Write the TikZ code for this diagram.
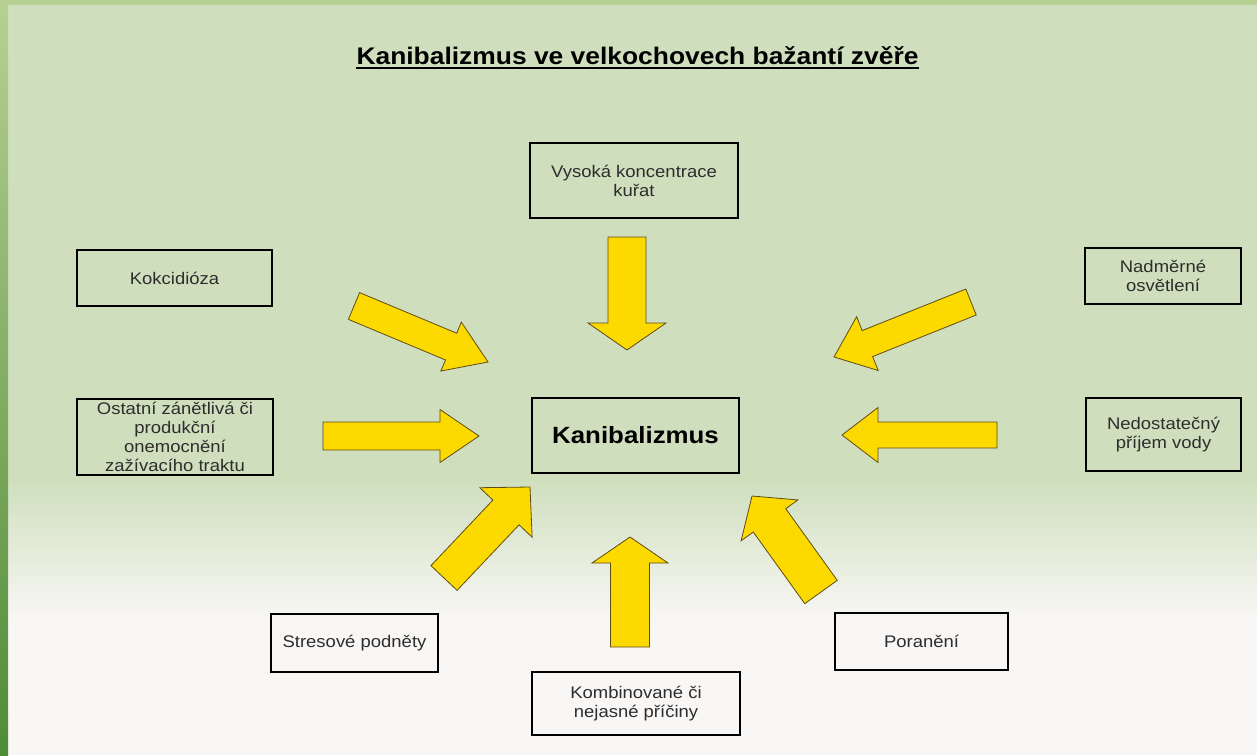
\documentclass[tikz,border=0pt]{standalone}
\usepackage{fontspec}
\setmainfont{Liberation Sans}[FakeStretch=1.1]
\usetikzlibrary{calc}

\definecolor{paper}{RGB}{249,247,245}
\definecolor{speckle}{RGB}{207,223,190}
\definecolor{bandgreen}{RGB}{183,208,148}
\definecolor{bardark}{RGB}{80,140,55}
\definecolor{arrowyellow}{RGB}{252,218,0}
\definecolor{arrowedge}{RGB}{95,75,20}
\definecolor{labelgray}{RGB}{45,45,45}

\tikzset{
  causebox/.style={draw=black,line width=2pt,align=center,inner sep=0pt,
    text=labelgray,font=\fontsize{16.8}{19}\selectfont},
  fatarrow/.style n args={3}{fill=arrowyellow,draw=arrowedge,line width=0.8pt,line join=miter,
    to path={($(\tikztostart)!#1!90:(\tikztotarget)$)
      -- ($(\tikztotarget)!#3!(\tikztostart)!#1!-90:(\tikztostart)$)
      -- ($(\tikztotarget)!#3!(\tikztostart)!#2!-90:(\tikztostart)$)
      -- (\tikztotarget)
      -- ($(\tikztotarget)!#3!(\tikztostart)!#2!90:(\tikztostart)$)
      -- ($(\tikztotarget)!#3!(\tikztostart)!#1!90:(\tikztostart)$)
      -- ($(\tikztostart)!#1!-90:(\tikztotarget)$) -- cycle}}
}

\begin{document}
\begin{tikzpicture}[x=1pt,y=-1pt]
\useasboundingbox (0,0) rectangle (1257,755);

% scanned page
\fill[paper] (0,0) rectangle (1257,755);
\fill[speckle] (8,5) rectangle (1257,480);
\shade[top color=speckle,bottom color=paper] (8,480) rectangle (1257,620);
\fill[bandgreen] (0,0) rectangle (1257,5);
\shade[top color=bandgreen,bottom color=bardark] (0,0) rectangle (8,755);

\node[anchor=base,inner sep=0pt,font=\fontsize{24}{28}\bfseries\selectfont] (Title) at (637.5,64)
  {Kanibalizmus ve velkochovech bažantí zvěře};
\draw[line width=2pt] ([yshift=-4pt]Title.base west) -- ([yshift=-4pt]Title.base east);

\begin{scope}[every node/.style=causebox]
    \node[minimum width=208pt,minimum height=75pt] (Koncentrace) at (634,180.5) {Vysoká koncentrace\\kuřat};
    \node[minimum width=195pt,minimum height=56pt] (Kokcidioza) at (174.5,278) {Kokcidióza};
    \node[minimum width=156pt,minimum height=56pt] (Osvetleni) at (1163,276) {Nadměrné\\osvětlení};
    \node[minimum width=196pt,minimum height=76pt] (Onemocneni) at (175,437) {Ostatní zánětlivá či\\produkční\\onemocnění\\zažívacího traktu};
    \node[minimum width=207pt,minimum height=75pt,text=black,
          font=\fontsize{23.5}{26}\bfseries\selectfont] (Kanibalizmus) at (635.5,435.5) {Kanibalizmus};
    \node[minimum width=155pt,minimum height=73pt] (Voda) at (1163.5,434.5) {Nedostatečný\\příjem vody};
    \node[minimum width=167pt,minimum height=58pt] (Stres) at (354.5,643) {Stresové podněty};
    \node[minimum width=208pt,minimum height=63pt] (Nejasne) at (636,703.5) {Kombinované či\\nejasné příčiny};
    \node[minimum width=173pt,minimum height=57pt] (Poraneni) at (921.5,641.5) {Poranění};
\end{scope}

\begin{scope}
    \coordinate (KoncentraceTail) at (627,237);   \coordinate (KoncentraceTip) at (627,350);
    \coordinate (NejasneTail) at (630,647);       \coordinate (NejasneTip) at (630,537);
    \coordinate (OnemocneniTail) at (323,436);    \coordinate (OnemocneniTip) at (479,436);
    \coordinate (VodaTail) at (997,435);          \coordinate (VodaTip) at (842,435);
    \coordinate (KokcidiozaTail) at (354,306);    \coordinate (KokcidiozaTip) at (488,362);
    \coordinate (OsvetleniTail) at (971,302);     \coordinate (OsvetleniTip) at (834,357);
    \coordinate (StresTail) at (444,578);         \coordinate (StresTip) at (530,487);
    \coordinate (PoraneniTail) at (821,592);      \coordinate (PoraneniTip) at (752,496);

    \draw[fatarrow={19pt}{39pt}{27pt}] (KoncentraceTail) to (KoncentraceTip);
    \draw[fatarrow={19.5pt}{38pt}{26pt}] (NejasneTail) to (NejasneTip);
    \draw[fatarrow={14pt}{26.5pt}{39pt}] (OnemocneniTail) to (OnemocneniTip);
    \draw[fatarrow={13pt}{27.5pt}{36pt}] (VodaTail) to (VodaTip);
    \draw[fatarrow={14.5pt}{26.5pt}{40pt}] (KokcidiozaTail) to (KokcidiozaTip);
    \draw[fatarrow={14pt}{29pt}{36pt}] (OsvetleniTail) to (OsvetleniTip);
    \draw[fatarrow={18pt}{36pt}{35pt}] (StresTail) to (StresTip);
    \draw[fatarrow={20pt}{35pt}{30pt}] (PoraneniTail) to (PoraneniTip);
\end{scope}

\end{tikzpicture}
\end{document}
